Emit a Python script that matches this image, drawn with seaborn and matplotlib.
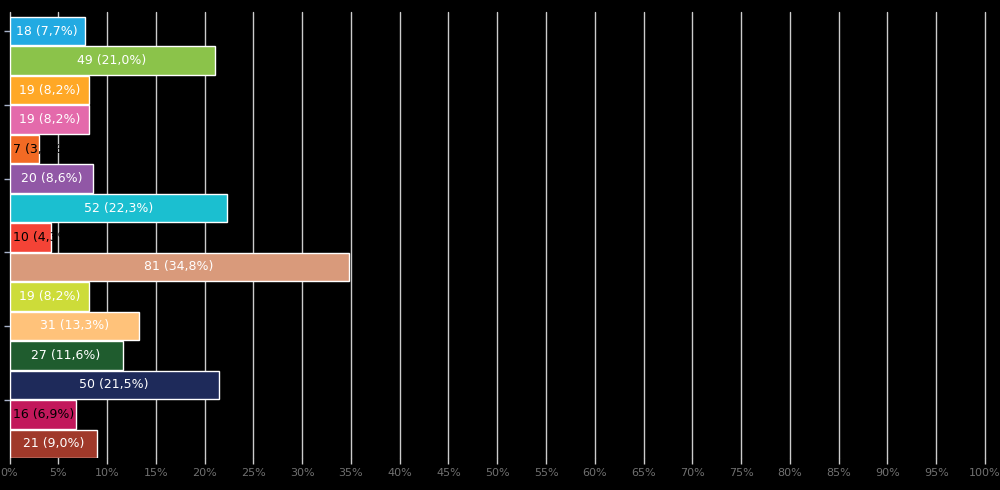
import numpy as np
import pandas as pd
import matplotlib
matplotlib.use("Agg")
import matplotlib.pyplot as plt
import seaborn as sns

# data
categories = ["c01", "c02", "c03", "c04", "c05", "c06", "c07", "c08",
              "c09", "c10", "c11", "c12", "c13", "c14", "c15"]
counts = [18, 49, 19, 19, 7, 20, 52, 10, 81, 19, 31, 27, 50, 16, 21]
n_total = 233
colors = ["#22aae2", "#8bc34a", "#ffa826", "#e46aab", "#f26a24",
          "#9157a6", "#1bbfd0", "#f44336", "#d99a7b", "#cddc39",
          "#ffc27a", "#1f5c2e", "#1e2a5a", "#c2185b", "#a0392a"]
x_ticks = list(range(0, 101, 5))

df = pd.DataFrame({"cat": categories, "count": counts})
df["pct"] = df["count"] / n_total * 100

sns.set_style("dark")
plt.rcParams["font.family"] = ["DejaVu Sans"]

fig = plt.figure(figsize=(10, 4.9), dpi=100, facecolor="black")
ax = fig.add_axes([0.0095, 0.0653, 0.9755, 0.9102])
ax.set_facecolor("black")

sns.barplot(data=df, x="pct", y="cat", hue="cat", palette=colors,
            order=categories, hue_order=categories, legend=False,
            saturation=1, width=0.96, edgecolor="white", linewidth=1.0,
            ax=ax, zorder=3)

for p, c, v in zip(ax.patches, df["count"], df["pct"]):
    txt = "{} ({:.1f}%)".format(c, v).replace(".", ",")
    yc = p.get_y() + p.get_height() / 2
    if v >= 7:
        t = ax.text(p.get_x() + p.get_width() / 2, yc, txt, color="white",
                    ha="center", va="center", fontsize=9, zorder=4)
    else:
        t = ax.text(0.4, yc, txt, color="black", ha="left", va="center",
                    fontsize=9, zorder=4)
        t.set_clip_path(p)

ax.set_xlim(0, 100)
ax.set_ylim(14.48, -0.65)
ax.set_xticks(x_ticks)
ax.set_xticklabels(["{}%".format(t) for t in x_ticks])
ax.set_yticks(np.arange(0, 14, 2.5))
ax.set_yticklabels([])
ax.set_xlabel("")
ax.set_ylabel("")

ax.grid(axis="x", color="#cccccc", linewidth=1.0, zorder=1)
ax.grid(axis="y", visible=False)
for gl in ax.get_xgridlines():
    gl.set_clip_on(False)
ax.tick_params(axis="x", bottom=True, colors="#cccccc", labelcolor="#707070",
               labelsize=8, length=4, width=1, pad=3)
ax.tick_params(axis="y", left=True, colors="#aab4cc", length=4, width=1)
for s in ax.spines.values():
    s.set_visible(False)

fig.savefig("out.png", dpi=100, facecolor="black")
